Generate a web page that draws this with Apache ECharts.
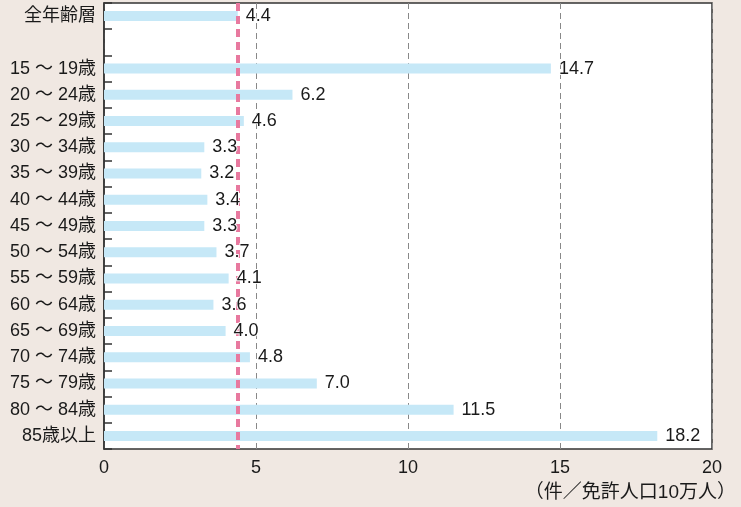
<!DOCTYPE html>
<html><head><meta charset="utf-8">
<script src="https://cdn.jsdelivr.net/npm/echarts@6/dist/echarts.min.js"></script>
<style>html,body{margin:0;padding:0;background:#f0e8e2}#c{width:741px;height:507px}</style>
</head><body><div id="c"></div>
<script>
const categories = ['全年齢層','','15 ～ 19歳','20 ～ 24歳','25 ～ 29歳','30 ～ 34歳','35 ～ 39歳','40 ～ 44歳','45 ～ 49歳','50 ～ 54歳','55 ～ 59歳','60 ～ 64歳','65 ～ 69歳','70 ～ 74歳','75 ～ 79歳','80 ～ 84歳','85歳以上'];
const values = [4.4,'-',14.7,6.2,4.6,3.3,3.2,3.4,3.3,3.7,4.1,3.6,4.0,4.8,7.0,11.5,18.2];
const averageValue = 4.4;
const xTicks = [0,5,10,15,20];
const unitLabel = '（件／免許人口10万人）';

const chart = echarts.init(document.getElementById('c'));
chart.setOption({
  backgroundColor:'#f0e8e2',
  animation:false,
  grid:{left:104,right:29,top:3,bottom:58,show:true,backgroundColor:'#ffffff',borderColor:'#333',borderWidth:1.5},
  xAxis:{type:'value',min:xTicks[0],max:xTicks[xTicks.length-1],interval:5,
    axisLine:{show:false},axisTick:{show:false},
    axisLabel:{fontSize:18,color:'#1a1a1a',margin:10,fontFamily:'Liberation Sans'},
    splitLine:{show:true,lineStyle:{color:'#888',type:[6,4],width:1}}},
  yAxis:{type:'category',inverse:true,data:categories,
    axisLine:{show:true,lineStyle:{color:'#333',width:1.5}},
    axisTick:{show:true,inside:true,length:8,lineStyle:{color:'#333',width:1.5}},
    axisLabel:{fontSize:18,color:'#1a1a1a',margin:8,fontFamily:'Liberation Sans, Noto Sans CJK JP'}},
  series:[
    {type:'bar',data:values,barWidth:10,z:1,itemStyle:{color:'#c6e8f7'},
      markLine:{silent:true,z:2,symbol:'none',label:{show:false},
        lineStyle:{color:'#e8799f',width:4,type:[8,5]},
        data:[{xAxis:averageValue}]}},
    {type:'bar',data:values,barWidth:10,barGap:'-100%',z:5,silent:true,itemStyle:{color:'rgba(0,0,0,0)'},
      label:{show:true,position:'right',distance:8,fontSize:18,color:'#1a1a1a',fontFamily:'Liberation Sans',
        textBorderColor:'rgba(255,255,255,0.9)',textBorderWidth:2,
        formatter:p=>Number(p.value).toFixed(1)}}
  ],
  graphic:[{type:'text',right:5,top:483,style:{text:unitLabel,fontSize:19,fill:'#1a1a1a',fontFamily:'Liberation Sans, Noto Sans CJK JP'}}]
});
</script></body></html>
